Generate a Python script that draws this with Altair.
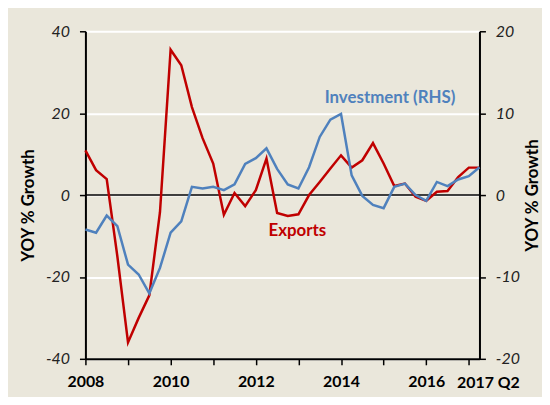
import altair as alt
import pandas as pd

quarters = [f"{y}Q{q}" for y in range(2008, 2018) for q in range(1, 5)][:38]

exports = [10.9, 6.1, 3.9, -15.0, -36.0, -30.0, -24.5, -4.2, 35.5, 31.7,
           21.5, 13.9, 7.7, -4.8, 0.5, -2.7, 1.2, 8.9, -4.4, -5.1,
           -4.7, 0.0, 3.2, 6.5, 9.7, 6.7, 8.5, 12.7, 7.7, 2.2,
           2.8, -0.4, -1.4, 0.8, 1.0, 4.4, 6.7, 6.7]

investment = [-4.2, -4.6, -2.5, -3.8, -8.5, -9.7, -12.0, -8.9, -4.6, -3.2,
              1.0, 0.8, 1.0, 0.6, 1.3, 3.8, 4.5, 5.7, 3.2, 1.3,
              0.8, 3.4, 7.1, 9.2, 9.9, 2.4, -0.1, -1.2, -1.6, 1.0,
              1.4, 0.0, -0.7, 1.6, 1.1, 1.9, 2.3, 3.4]

tick_pos = [0, 8, 16, 24, 32]
tick_labels = ["2008", "2010", "2012", "2014", "2016"]
last_label = "2017 Q2"

left_ticks = [-40, -20, 0, 20, 40]
right_ticks = [-20, -10, 0, 10, 20]

ann_text = ["Investment (RHS)", "Exports"]
ann_x = [28.6, 19.9]
ann_y = [23.8, -8.7]
ann_color = ["#4F81BD", "#C00000"]

RED = "#C00000"
BLUE = "#4F81BD"
BG = "#EAE7DB"
FONT = "Lato"

df = pd.DataFrame({"i": list(range(len(quarters))), "q": quarters,
                   "v": exports, "inv": investment})
ann = pd.DataFrame({"t": ann_text, "i": ann_x, "v": ann_y, "c": ann_color})
zero = pd.DataFrame({"v": [0]})
last = pd.DataFrame({"t": [last_label], "i": [len(quarters) - 1], "v": [-40]})

label_expr = " : ".join(
    [f"datum.value == {p} ? '{l}'" for p, l in zip(tick_pos, tick_labels)]
) + " : ''"

x_enc = alt.X(
    "i:Q",
    scale=alt.Scale(domain=[0, 37], nice=False, zero=False),
    axis=alt.Axis(
        title=None, values=list(range(38)), labelExpr=label_expr,
        labelOverlap=False, labelFlush=False, labelBound=False, grid=False,
        domainColor="black", domainWidth=2, tickColor="black", tickWidth=1.5,
        tickSize=6, labelFont=FONT, labelFontSize=16, labelFontWeight="bold",
        labelColor="black", labelPadding=9,
    ),
)

left_axis = alt.Axis(
    title="YOY % Growth", values=left_ticks, labelExpr="'' + datum.value",
    grid=True, gridColor="white", gridWidth=2, gridOpacity=1,
    domainColor="black", domainWidth=2, tickColor="black", tickWidth=1.5,
    tickSize=6, labelFont=FONT, labelFontSize=16, labelFontStyle="italic",
    labelColor="#222222", labelPadding=10,
    titleFont=FONT, titleFontSize=17, titleFontWeight="bold", titleColor="black",
    titleAngle=270, titleX=-57, titleY=175, titleAlign="center", titleBaseline="middle",
)

right_axis = alt.Axis(
    title="YOY % Growth", orient="right", values=right_ticks,
    labelExpr="'' + datum.value", grid=False,
    domainColor="black", domainWidth=2, tickColor="black", tickWidth=1.5,
    tickSize=6, labelFont=FONT, labelFontSize=16, labelFontStyle="italic",
    labelColor="#222222", labelPadding=10,
    titleFont=FONT, titleFontSize=17, titleFontWeight="bold", titleColor="black",
    titleAngle=270, titleX=53, titleY=165, titleAlign="center", titleBaseline="middle",
)

yl = alt.Scale(domain=[-40, 40], nice=False, zero=False)
yr = alt.Scale(domain=[-20, 20], nice=False, zero=False)

red = alt.Chart(df).mark_line(color=RED, strokeWidth=2.5).encode(
    x=x_enc, y=alt.Y("v:Q", scale=yl, axis=left_axis)
)
zline = alt.Chart(zero).mark_rule(color="black", strokeWidth=1.5).encode(
    y=alt.Y("v:Q", scale=yl)
)
texts = alt.Chart(ann).mark_text(
    font=FONT, fontSize=17, fontWeight="bold", align="center", baseline="middle"
).encode(
    x=alt.X("i:Q"), y=alt.Y("v:Q", scale=yl),
    text="t:N", color=alt.Color("c:N", scale=None),
)
last_text = alt.Chart(last).mark_text(
    font=FONT, fontSize=16, fontWeight="bold", align="center", baseline="middle",
    color="black", dx=9, dy=24,
).encode(x=alt.X("i:Q"), y=alt.Y("v:Q", scale=yl), text="t:N")
blue = alt.Chart(df).mark_line(color=BLUE, strokeWidth=2.5).encode(
    x=alt.X("i:Q"), y=alt.Y("inv:Q", scale=yr, axis=right_axis)
)

left_layer = alt.layer(zline, red, texts, last_text)
chart = alt.layer(left_layer, blue).resolve_scale(y="independent").properties(
    width=397, height=330, autosize="none",
    padding={"left": 78, "top": 22, "right": 63, "bottom": 37},
    background=BG,
).configure_view(stroke=None)

chart.save("out.html", embed_options={"renderer": "svg", "actions": False})
